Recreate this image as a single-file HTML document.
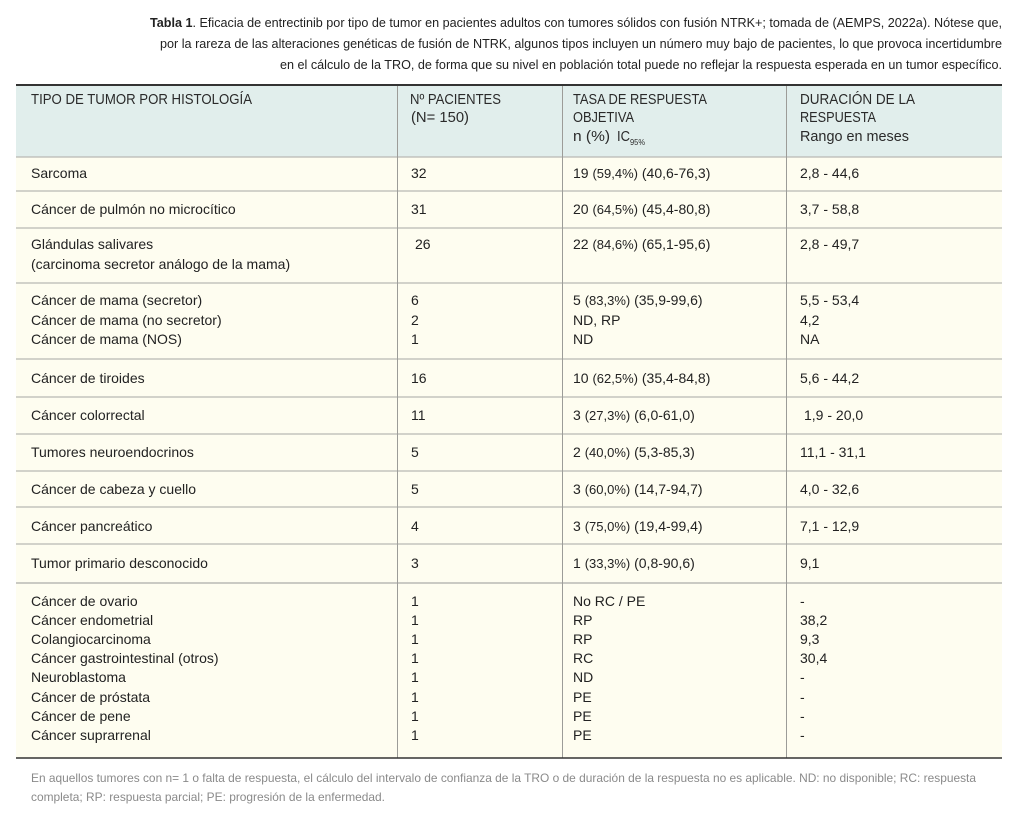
<!DOCTYPE html>
<html>
<head>
<meta charset="utf-8">
<style>
html,body{margin:0;padding:0;background:#fff;}
svg{display:block;}
text{font-family:"Liberation Sans","DejaVu Sans",sans-serif;}
.b{font-size:14px;fill:#222;}
.h{font-size:14.5px;fill:#2a2a2a;}
.t{font-size:12.8px;fill:#222;}
.f{font-size:12px;fill:#8a8a8a;}
</style>
</head>
<body>
<svg width="1024" height="816" viewBox="0 0 1024 816" xmlns="http://www.w3.org/2000/svg">
<rect x="0" y="0" width="1024" height="816" fill="#ffffff"/>

<!-- Title -->
<text class="t" x="150" y="27" textLength="852" lengthAdjust="spacingAndGlyphs"><tspan font-weight="bold">Tabla 1</tspan>. Eficacia de entrectinib por tipo de tumor en pacientes adultos con tumores sólidos con fusión NTRK+; tomada de (AEMPS, 2022a). Nótese que,</text>
<text class="t" x="160" y="48" textLength="842" lengthAdjust="spacingAndGlyphs">por la rareza de las alteraciones genéticas de fusión de NTRK, algunos tipos incluyen un número muy bajo de pacientes, lo que provoca incertidumbre</text>
<text class="t" x="280" y="69" textLength="722" lengthAdjust="spacingAndGlyphs">en el cálculo de la TRO, de forma que su nivel en población total puede no reflejar la respuesta esperada en un tumor específico.</text>

<!-- Backgrounds -->
<rect x="16" y="85" width="986" height="72" fill="#e1eeec"/>
<rect x="16" y="157" width="986" height="601" fill="#fefdf0"/>

<!-- Horizontal lines -->
<g stroke="#b9b9b4" stroke-width="1.2">
<line x1="16" y1="157" x2="1002" y2="157"/>
<line x1="16" y1="191" x2="1002" y2="191"/>
<line x1="16" y1="228" x2="1002" y2="228"/>
<line x1="16" y1="283" x2="1002" y2="283"/>
<line x1="16" y1="359" x2="1002" y2="359"/>
<line x1="16" y1="397" x2="1002" y2="397"/>
<line x1="16" y1="434" x2="1002" y2="434"/>
<line x1="16" y1="471" x2="1002" y2="471"/>
<line x1="16" y1="507" x2="1002" y2="507"/>
<line x1="16" y1="544" x2="1002" y2="544"/>
<line x1="16" y1="583" x2="1002" y2="583" stroke-width="1.6"/>
</g>
<!-- Vertical lines -->
<g stroke="#9c9c98" stroke-width="1">
<line x1="397.5" y1="86" x2="397.5" y2="758"/>
<line x1="562.5" y1="86" x2="562.5" y2="758"/>
<line x1="786.5" y1="86" x2="786.5" y2="758"/>
</g>
<!-- Top / bottom dark borders -->
<line x1="16" y1="85" x2="1002" y2="85" stroke="#333" stroke-width="2"/>
<line x1="16" y1="758" x2="1002" y2="758" stroke="#333" stroke-width="1.6"/>

<!-- Header text -->
<text class="h" x="31" y="104" textLength="221" lengthAdjust="spacingAndGlyphs">TIPO DE TUMOR POR HISTOLOGÍA</text>
<text class="h" x="410" y="104" textLength="91" lengthAdjust="spacingAndGlyphs">Nº PACIENTES</text>
<text class="h" x="411" y="122" textLength="58" lengthAdjust="spacingAndGlyphs">(N= 150)</text>
<text class="h" x="573" y="104" textLength="134" lengthAdjust="spacingAndGlyphs">TASA DE RESPUESTA</text>
<text class="h" x="573" y="122" textLength="61" lengthAdjust="spacingAndGlyphs">OBJETIVA</text>
<text class="h" x="573" y="141" textLength="37" lengthAdjust="spacingAndGlyphs">n (%)</text>
<text class="h" x="617" y="141" textLength="13" lengthAdjust="spacingAndGlyphs">IC</text>
<text x="630" y="145" style="font-size:8px;fill:#2a2a2a" textLength="15" lengthAdjust="spacingAndGlyphs">95%</text>
<text class="h" x="800" y="104" textLength="115" lengthAdjust="spacingAndGlyphs">DURACIÓN DE LA</text>
<text class="h" x="800" y="122" textLength="76" lengthAdjust="spacingAndGlyphs">RESPUESTA</text>
<text class="h" x="800" y="141" textLength="109" lengthAdjust="spacingAndGlyphs">Rango en meses</text>

<!-- Body column 1 -->
<g class="b">
<text class="b" x="31" y="178">Sarcoma</text>
<text class="b" x="31" y="214">Cáncer de pulmón no microcítico</text>
<text class="b" x="31" y="249">Glándulas salivares</text>
<text class="b" x="31" y="269">(carcinoma secretor análogo de la mama)</text>
<text class="b" x="31" y="305">Cáncer de mama (secretor)</text>
<text class="b" x="31" y="325">Cáncer de mama (no secretor)</text>
<text class="b" x="31" y="344">Cáncer de mama (NOS)</text>
<text class="b" x="31" y="383">Cáncer de tiroides</text>
<text class="b" x="31" y="420">Cáncer colorrectal</text>
<text class="b" x="31" y="457">Tumores neuroendocrinos</text>
<text class="b" x="31" y="494">Cáncer de cabeza y cuello</text>
<text class="b" x="31" y="531">Cáncer pancreático</text>
<text class="b" x="31" y="568">Tumor primario desconocido</text>
<text class="b" x="31" y="606">Cáncer de ovario</text>
<text class="b" x="31" y="625">Cáncer endometrial</text>
<text class="b" x="31" y="644">Colangiocarcinoma</text>
<text class="b" x="31" y="663">Cáncer gastrointestinal (otros)</text>
<text class="b" x="31" y="682">Neuroblastoma</text>
<text class="b" x="31" y="702">Cáncer de próstata</text>
<text class="b" x="31" y="721">Cáncer de pene</text>
<text class="b" x="31" y="740">Cáncer suprarrenal</text>
</g>

<!-- Body column 2 -->
<text class="b" x="411" y="178">32</text>
<text class="b" x="411" y="214">31</text>
<text class="b" x="415" y="249">26</text>
<text class="b" x="411" y="305">6</text>
<text class="b" x="411" y="325">2</text>
<text class="b" x="411" y="344">1</text>
<text class="b" x="411" y="383">16</text>
<text class="b" x="411" y="420">11</text>
<text class="b" x="411" y="457">5</text>
<text class="b" x="411" y="494">5</text>
<text class="b" x="411" y="531">4</text>
<text class="b" x="411" y="568">3</text>
<text class="b" x="411" y="606">1</text>
<text class="b" x="411" y="625">1</text>
<text class="b" x="411" y="644">1</text>
<text class="b" x="411" y="663">1</text>
<text class="b" x="411" y="682">1</text>
<text class="b" x="411" y="702">1</text>
<text class="b" x="411" y="721">1</text>
<text class="b" x="411" y="740">1</text>

<!-- Body column 3 -->
<text class="b" x="573" y="178">19 <tspan font-size="13">(59,4%)</tspan> (40,6-76,3)</text>
<text class="b" x="573" y="214">20 <tspan font-size="13">(64,5%)</tspan> (45,4-80,8)</text>
<text class="b" x="573" y="249">22 <tspan font-size="13">(84,6%)</tspan> (65,1-95,6)</text>
<text class="b" x="573" y="305">5 <tspan font-size="13">(83,3%)</tspan> (35,9-99,6)</text>
<text class="b" x="573" y="325">ND, RP</text>
<text class="b" x="573" y="344">ND</text>
<text class="b" x="573" y="383">10 <tspan font-size="13">(62,5%)</tspan> (35,4-84,8)</text>
<text class="b" x="573" y="420">3 <tspan font-size="13">(27,3%)</tspan> (6,0-61,0)</text>
<text class="b" x="573" y="457">2 <tspan font-size="13">(40,0%)</tspan> (5,3-85,3)</text>
<text class="b" x="573" y="494">3 <tspan font-size="13">(60,0%)</tspan> (14,7-94,7)</text>
<text class="b" x="573" y="531">3 <tspan font-size="13">(75,0%)</tspan> (19,4-99,4)</text>
<text class="b" x="573" y="568">1 <tspan font-size="13">(33,3%)</tspan> (0,8-90,6)</text>
<text class="b" x="573" y="606">No RC / PE</text>
<text class="b" x="573" y="625">RP</text>
<text class="b" x="573" y="644">RP</text>
<text class="b" x="573" y="663">RC</text>
<text class="b" x="573" y="682">ND</text>
<text class="b" x="573" y="702">PE</text>
<text class="b" x="573" y="721">PE</text>
<text class="b" x="573" y="740">PE</text>

<!-- Body column 4 -->
<text class="b" x="800" y="178">2,8 - 44,6</text>
<text class="b" x="800" y="214">3,7 - 58,8</text>
<text class="b" x="800" y="249">2,8 - 49,7</text>
<text class="b" x="800" y="305">5,5 - 53,4</text>
<text class="b" x="800" y="325">4,2</text>
<text class="b" x="800" y="344">NA</text>
<text class="b" x="800" y="383">5,6 - 44,2</text>
<text class="b" x="804" y="420">1,9 - 20,0</text>
<text class="b" x="800" y="457">11,1 - 31,1</text>
<text class="b" x="800" y="494">4,0 - 32,6</text>
<text class="b" x="800" y="531">7,1 - 12,9</text>
<text class="b" x="800" y="568">9,1</text>
<text class="b" x="800" y="606">-</text>
<text class="b" x="800" y="625">38,2</text>
<text class="b" x="800" y="644">9,3</text>
<text class="b" x="800" y="663">30,4</text>
<text class="b" x="800" y="682">-</text>
<text class="b" x="800" y="702">-</text>
<text class="b" x="800" y="721">-</text>
<text class="b" x="800" y="740">-</text>

<!-- Footer -->
<text class="f" x="31" y="782" textLength="945" lengthAdjust="spacingAndGlyphs">En aquellos tumores con n= 1 o falta de respuesta, el cálculo del intervalo de confianza de la TRO o de duración de la respuesta no es aplicable. ND: no disponible; RC: respuesta</text>
<text class="f" x="31" y="801" textLength="354" lengthAdjust="spacingAndGlyphs">completa; RP: respuesta parcial; PE: progresión de la enfermedad.</text>
</svg>
</body>
</html>
